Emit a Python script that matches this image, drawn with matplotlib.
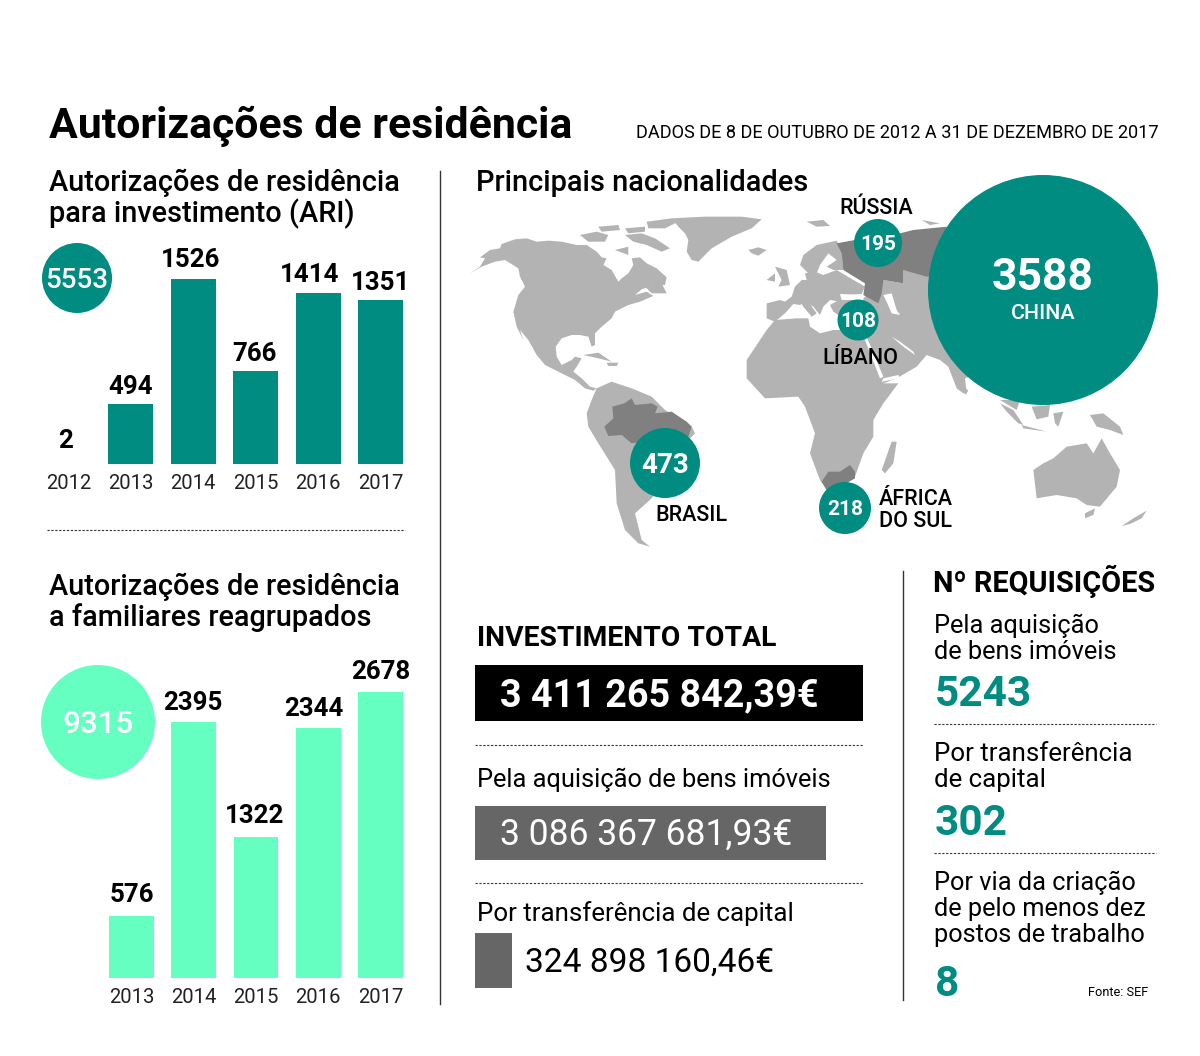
# Infografia: autorizações de residência (ARI)
import matplotlib
matplotlib.use('Agg')
import matplotlib.pyplot as plt
from matplotlib.patches import Circle, Polygon

plt.rcParams['font.family'] = ['Roboto', 'DejaVu Sans']

TEAL = '#008c80'
MINT = '#66ffc2'
LAND = '#b3b3b3'
DARK_LAND = '#808080'
BOX_GREY = '#666666'

# Dados
ari_years = ['2012', '2013', '2014', '2015', '2016', '2017']
ari_values = [2, 494, 1526, 766, 1414, 1351]
ari_total = 5553

fam_years = ['2013', '2014', '2015', '2016', '2017']
fam_values = [576, 2395, 1322, 2344, 2678]
fam_total = 9315

invest_values = [3411265842.39, 3086367681.93, 324898160.46]
invest_labels = ['3 411 265 842,39€', '3 086 367 681,93€', '324 898 160,46€']

nat_names = ['CHINA', 'BRASIL', 'ÁFRICA\nDO SUL', 'RÚSSIA', 'LÍBANO']
nat_values = [3588, 473, 218, 195, 108]

req_values = [5243, 302, 8]

# Acertos dos rótulos das barras, em pontos
ari_nudge = [(-2, 8), (0, 4), (-2, 5), (-1, 4), (-6, 4), (0, 4)]
fam_nudge = [(0, 7), (-1, 5), (-1, 6), (-3, 5), (0, 6)]


# Contornos aproximados do mapa, medidos nos recortes ampliados
def west(points):
    return [(465 + x / 3, 170 + y / 3) for x, y in points]


def east(points):
    return [(800 + x / 3, 170 + y / 3) for x, y in points]


land_west = [
    # América do Norte
    [(15, 310), (45, 290), (60, 265), (45, 262), (75, 240), (105, 235), (110, 222), (150, 208), (185, 205),
     (215, 215), (250, 212), (290, 215), (335, 225), (365, 225), (395, 245), (410, 262), (425, 265), (415, 285),
     (440, 300), (460, 335), (470, 325), (490, 310), (505, 285), (500, 265), (525, 262), (545, 280), (575, 295),
     (605, 322), (600, 345), (565, 345), (530, 358), (510, 375), (545, 365), (565, 378), (525, 395), (490, 405),
     (450, 425), (440, 445), (410, 470), (390, 490), (390, 525), (380, 530), (370, 500), (345, 495), (320, 495),
     (290, 505), (272, 530), (275, 560), (290, 585), (320, 570), (330, 560), (350, 565), (335, 590), (325, 605),
     (350, 625), (375, 650), (395, 655), (385, 662), (360, 655), (330, 630), (270, 600), (240, 585), (215, 555),
     (190, 510), (165, 480), (175, 510), (155, 470), (145, 425), (160, 375), (180, 350), (165, 320), (160, 295),
     (120, 270), (90, 275), (50, 290)],
    # Ilhas do Árctico
    [(345, 195), (395, 185), (430, 195), (420, 215), (370, 215)],
    [(400, 170), (460, 165), (465, 180), (410, 185)],
    [(480, 175), (540, 170), (540, 185), (490, 190)],
    [(480, 195), (530, 190), (570, 205), (615, 235), (590, 245), (545, 225), (505, 215)],
    [(545, 155), (620, 145), (640, 155), (600, 175), (550, 175)],
    [(450, 240), (490, 230), (490, 255)],
    # Gronelândia e Islândia
    [(640, 170), (620, 145), (720, 140), (830, 140), (890, 148), (860, 175), (800, 200), (740, 235), (700, 275),
     (680, 270), (665, 245), (670, 210), (660, 190)],
    [(850, 240), (880, 232), (905, 240), (880, 257), (860, 250)],
    # Terra Nova, Cuba, Hispaniola
    [(540, 350), (590, 340), (605, 370), (560, 370)],
    [(355, 555), (400, 548), (440, 575), (400, 565)],
    [(425, 578), (460, 578), (455, 588), (430, 588)],
    # América do Sul
    [(365, 730), (380, 690), (395, 655), (440, 635), (500, 655), (560, 680), (600, 720), (680, 770), (690, 790),
     (660, 820), (620, 900), (560, 985), (510, 1030), (520, 1070), (530, 1110), (555, 1130), (520, 1120),
     (480, 1080), (455, 1000), (450, 900), (400, 820), (370, 770)],
    # Reino Unido e Irlanda
    [(930, 290), (965, 300), (975, 345), (940, 350), (950, 330)],
    [(905, 330), (930, 310), (930, 335)],
]

land_east = [
    # Europa
    [(-100, 400), (-100, 445), (-75, 455), (-45, 430), (-20, 402), (0, 405), (15, 395), (40, 410), (60, 435),
     (70, 410), (90, 390), (120, 395), (140, 375), (185, 372), (195, 350), (135, 315), (110, 300), (70, 315),
     (45, 305), (15, 310), (20, 330), (5, 330), (-15, 350), (-25, 380), (-45, 395), (-60, 390)],
    [(0, 285), (10, 255), (50, 225), (110, 212), (125, 240), (130, 300), (100, 300), (80, 290), (110, 270),
     (85, 250), (60, 285), (50, 310), (30, 315), (15, 300)],
    [(0, 395), (25, 395), (50, 430), (35, 440), (10, 410)],
    [(20, 155), (70, 150), (90, 168), (50, 170)],
    [(365, 150), (420, 160), (390, 165)],
    # Ásia
    [(90, 405), (125, 385), (190, 385), (250, 330), (310, 340), (310, 300), (400, 300), (560, 600), (495, 625),
     (500, 670), (490, 670), (470, 655), (445, 590), (420, 570), (380, 555), (350, 590), (290, 625), (250, 640),
     (230, 600), (195, 510), (170, 470), (100, 425)],
    # África
    [(-100, 480), (-75, 450), (-10, 445), (25, 445), (30, 470), (60, 490), (100, 480), (180, 480), (195, 510),
     (250, 640), (295, 640), (250, 700), (220, 750), (220, 800), (190, 850), (165, 920), (130, 945), (80, 960),
     (60, 930), (30, 850), (45, 790), (15, 710), (-5, 680), (-105, 685), (-160, 625), (-160, 570)],
    [(245, 900), (275, 815), (290, 815), (280, 880), (255, 910)],
    # Sudeste asiático e Oceânia
    [(600, 690), (660, 690), (650, 720)],
    [(600, 700), (640, 720), (670, 765), (655, 760), (620, 725)],
    [(665, 765), (740, 785), (670, 775)],
    [(695, 710), (750, 705), (745, 740), (710, 748)],
    [(760, 730), (790, 725), (775, 770), (765, 760)],
    [(870, 735), (910, 730), (960, 770), (970, 795), (930, 780), (890, 770)],
    [(492, 650), (505, 662), (495, 675)],
    [(700, 900), (730, 880), (760, 865), (800, 830), (860, 820), (880, 850), (905, 805), (930, 850), (960, 900),
     (950, 950), (900, 1010), (860, 1005), (830, 985), (770, 975), (710, 985)],
    [(855, 1030), (885, 1015), (880, 1035), (855, 1045)],
    [(965, 1068), (1000, 1045), (1040, 1022), (1025, 1045), (990, 1062)],
]

water_east = [
    [(250, 375), (275, 370), (290, 420), (300, 435), (275, 430), (262, 400)],
    [(275, 500), (300, 515), (340, 545), (345, 555), (310, 530)],
    [(200, 500), (250, 620), (240, 625), (195, 510)],
    [(245, 635), (300, 625), (295, 615), (250, 625)],
    [(120, 372), (190, 375), (190, 390), (125, 390)],
]

highlight_west = [
    [(418, 770), (445, 745), (442, 710), (478, 700), (500, 685), (510, 705), (560, 700), (578, 710), (570, 730),
     (620, 725), (665, 755), (680, 770), (670, 800), (600, 830), (540, 815), (500, 820), (470, 795), (430, 798)],
]
highlight_east = [
    [(110, 220), (165, 210), (300, 190), (340, 180), (440, 170), (440, 310), (380, 320), (310, 300), (310, 340),
     (250, 330), (245, 370), (235, 400), (190, 375), (195, 340), (130, 300), (125, 250)],
    [(65, 935), (85, 905), (120, 905), (150, 885), (165, 905), (165, 925), (130, 945), (80, 960)],
]

fig = plt.figure(figsize=(12, 10.56), dpi=100)

# Camada de fundo em píxeis, para o mapa e os textos soltos
bg = fig.add_axes([0, 0, 1, 1])
bg.set_xlim(0, 1200)
bg.set_ylim(1056, 0)
bg.axis('off')

for shape in land_west:
    bg.add_patch(Polygon(west(shape), color=LAND, lw=0))
for shape in land_east:
    bg.add_patch(Polygon(east(shape), color=LAND, lw=0))
for shape in water_east:
    bg.add_patch(Polygon(east(shape), color='white', lw=0))
for shape in highlight_west:
    bg.add_patch(Polygon(west(shape), color=DARK_LAND, lw=0))
for shape in highlight_east:
    bg.add_patch(Polygon(east(shape), color=DARK_LAND, lw=0))


def put(x, y, s, size, weight='normal', color='black', ha='left'):
    bg.text(x, y, s, fontsize=size, fontweight=weight, color=color, ha=ha, va='baseline')


def bubble(x, y, r, color=TEAL):
    bg.add_patch(Circle((x, y), r, color=color, lw=0, zorder=3))


def number(x, y, s, size, weight='bold'):
    bg.text(x, y, s, fontsize=size, fontweight=weight, color='white', ha='center', va='baseline', zorder=4)


def bars(left, right, top, base, years, values, color, nudge):
    # a escala y fica presa ao valor máximo: topo da barra mais alta = top
    n = len(values)
    half = 0.36
    ax = fig.add_axes([left / 1200, 1 - base / 1056, (right - left) / 1200, (base - top) / 1056])
    ax.bar(range(n), values, width=0.72, color=color)
    ax.set_xlim(-half, n - 1 + half)
    ax.set_ylim(0, max(values))
    ax.set_xticks(range(n), years)
    ax.set_yticks([])
    ax.tick_params(axis='x', length=0, pad=7, labelsize=14.6, labelcolor='#222222')
    for side in ax.spines.values():
        side.set_visible(False)
    ax.patch.set_alpha(0)
    for i, v in enumerate(values):
        ax.annotate(str(v), (i, v), xytext=nudge[i], textcoords='offset points', ha='center', va='bottom',
                    fontsize=18.6, fontweight='bold', annotation_clip=False)
    return ax


# Título
put(49, 138, 'Autorizações de residência', 30.8, 'bold')
put(636, 138, 'DADOS DE 8 DE OUTUBRO DE 2012 A 31 DE DEZEMBRO DE 2017', 13.07)

# Coluna da esquerda
put(49, 191, 'Autorizações de residência', 20.8, 'medium')
put(49, 222, 'para investimento (ARI)', 20.8, 'medium')
bars(46, 403, 279, 464, ari_years, ari_values, TEAL, ari_nudge)
bubble(77, 278, 35)
number(77, 288, str(ari_total), 20, 'medium')
bg.plot([47, 405], [530, 530], color='#333333', lw=0.8, ls=(0, (2, 1.5)))

put(49, 595, 'Autorizações de residência', 20.8, 'medium')
put(49, 626, 'a familiares reagrupados', 20.8, 'medium')
bars(109, 403, 692, 978, fam_years, fam_values, MINT, fam_nudge)
bubble(98, 722, 57, MINT)
number(98, 733, str(fam_total), 22.6, 'medium')

bg.plot([440, 440], [171, 1004], color='#333333', lw=1)
bg.plot([903, 903], [571, 1000], color='#333333', lw=1)

# Mapa
put(476, 191, 'Principais nacionalidades', 20.9, 'medium')
bubble(1043, 290, 115)
number(1043, 290, str(nat_values[0]), 32)
number(1043, 319, nat_names[0], 15.4, 'medium')
bubble(665, 463, 35)
number(665, 473, str(nat_values[1]), 20)
put(691, 521, nat_names[1], 15.5, 'medium', ha='center')
bubble(845, 508, 26)
number(845, 515, str(nat_values[2]), 15)
put(879, 505, nat_names[2].split('\n')[0], 15.5, 'medium')
put(879, 527, nat_names[2].split('\n')[1], 15.5, 'medium')
bubble(878, 243, 24)
number(878, 250, str(nat_values[3]), 15)
put(876, 214, nat_names[3], 15.5, 'medium', ha='center')
bubble(858, 320, 20.5)
number(858, 327, str(nat_values[4]), 15)
put(860, 364, nat_names[4], 15.5, 'medium', ha='center')

# Investimento: comprimento das caixas segue os valores
box_y = [693, 833, 960.5]
box_h = [56, 54, 55]
box_colors = ['black', BOX_GREY, BOX_GREY]
inv = fig.add_axes([475 / 1200, 0, 388 / 1200, 1])
inv.barh(box_y, invest_values, height=box_h, color=box_colors)
inv.set_xlim(0, invest_values[0])
inv.set_ylim(1056, 0)
inv.axis('off')

put(477, 646, 'INVESTIMENTO TOTAL', 20.3, 'bold')
put(500, 706, invest_labels[0], 27.2, 'bold', 'white')
bg.plot([475, 863], [745, 745], color='#333333', lw=0.8, ls=(0, (2, 1.5)))
put(477, 787, 'Pela aquisição de bens imóveis', 18.3)
put(500, 845, invest_labels[1], 25.6, 'normal', 'white')
bg.plot([475, 863], [883, 883], color='#333333', lw=0.8, ls=(0, (2, 1.5)))
put(477, 921, 'Por transferência de capital', 18.6)
put(525, 972, invest_labels[2], 24.1)
bg.set_zorder(1)

# Requisições
put(933, 592, 'Nº REQUISIÇÕES', 20.8, 'bold')
put(934, 633, 'Pela aquisição', 18.3)
put(934, 659, 'de bens imóveis', 18.3)
put(935, 706, str(req_values[0]), 30.4, 'bold', TEAL)
bg.plot([934, 1156], [724, 724], color='#333333', lw=0.8, ls=(0, (2, 1.5)))
put(934, 761, 'Por transferência', 18.6)
put(934, 787, 'de capital', 18.6)
put(935, 835, str(req_values[1]), 30.4, 'bold', TEAL)
bg.plot([934, 1156], [853, 853], color='#333333', lw=0.8, ls=(0, (2, 1.5)))
put(934, 890, 'Por via da criação', 18.3)
put(934, 916, 'de pelo menos dez', 18.3)
put(934, 942, 'postos de trabalho', 18.3)
put(935, 996, str(req_values[2]), 30.4, 'bold', TEAL)
put(1088, 996, 'Fonte: SEF', 9.2)

fig.savefig('out.png', dpi=100, facecolor='white')
